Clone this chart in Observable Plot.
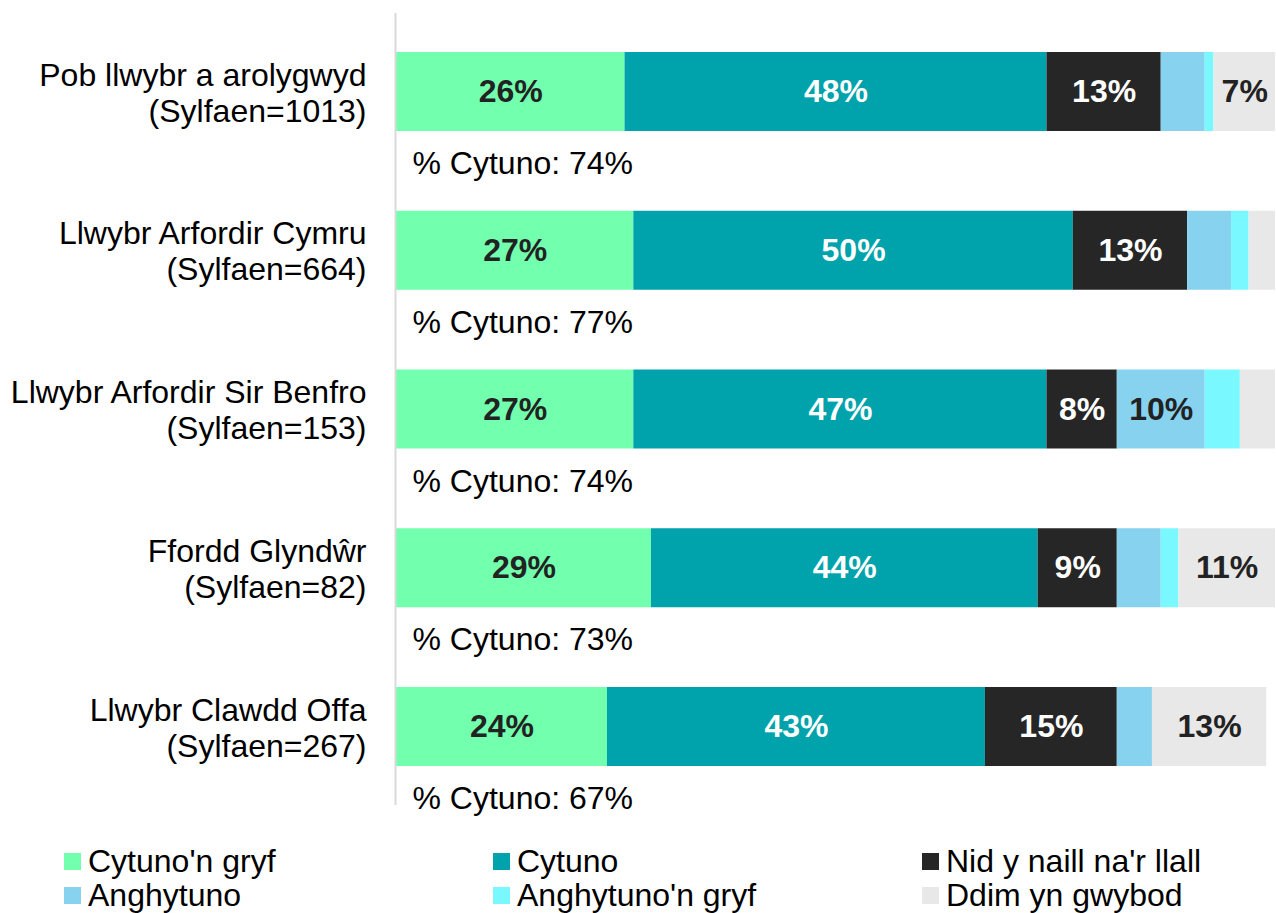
<!DOCTYPE html>
<html>
<head>
<meta charset="utf-8">
<script src="https://cdn.jsdelivr.net/npm/d3@7"></script>
<script src="https://cdn.jsdelivr.net/npm/@observablehq/plot@0.6"></script>
<style>
  html, body { margin: 0; padding: 0; background: #fff; }
  body { font-family: "Liberation Sans", Arial, sans-serif; }
  #chart svg { display: block; }
  .legend { position: relative; width: 1276px; height: 83px; font-family: "Liberation Sans", Arial, sans-serif; font-size: 32px; color: #000; }
  .legend .item { position: absolute; display: flex; align-items: center; height: 34px; line-height: 34px; white-space: nowrap; }
  .legend .sw { width: 17px; height: 17px; margin-right: 7px; flex: none; }
</style>
</head>
<body>
<div id="chart"></div>
<div class="legend" id="legend"></div>
<script>
const routes = [
  "Pob llwybr a arolygwyd\n(Sylfaen=1013)",
  "Llwybr Arfordir Cymru\n(Sylfaen=664)",
  "Llwybr Arfordir Sir Benfro\n(Sylfaen=153)",
  "Ffordd Glyndŵr\n(Sylfaen=82)",
  "Llwybr Clawdd Offa\n(Sylfaen=267)"
];
const responses = ["Cytuno'n gryf", "Cytuno", "Nid y naill na'r llall", "Anghytuno", "Anghytuno'n gryf", "Ddim yn gwybod"];
const colors = ["#72ffae", "#00a2ab", "#262626", "#86d2ef", "#79f8ff", "#e8e8e8"];

const cytunoGryf    = [26, 27, 27, 29, 24];
const cytuno        = [48, 50, 47, 44, 43];
const nidNaill      = [13, 13, 8, 9, 15];
const anghytuno     = [5, 5, 10, 5, 4];
const anghytunoGryf = [1, 2, 4, 2, 0];
const ddimGwybod    = [7, 3, 4, 11, 13];
const cytunoTotal   = [74, 77, 74, 73, 67];

const series = [cytunoGryf, cytuno, nidNaill, anghytuno, anghytunoGryf, ddimGwybod];
const data = [];
routes.forEach((r, i) => {
  responses.forEach((resp, j) => {
    data.push({route: r, response: resp, value: series[j][i]});
  });
});
const totals = routes.map((r, i) => ({route: r, total: cytunoTotal[i]}));

const whiteLabels = new Set(["Cytuno", "Nid y naill na'r llall"]);
const stackOpts = {x: "value", y: "route", z: "response", order: responses};

const chart = Plot.plot({
  width: 1276,
  height: 830,
  marginLeft: 396,
  marginRight: 1,
  marginTop: 13,
  marginBottom: 25,
  style: {fontFamily: "Liberation Sans, Arial, sans-serif", background: "#fff"},
  x: {domain: [0, 100], axis: null},
  y: {domain: routes, axis: null, paddingInner: 0.5024, paddingOuter: 0.2457, round: false},
  color: {domain: responses, range: colors},
  marks: [
    Plot.barX(data, Plot.stackX({...stackOpts, fill: "response"})),
    Plot.ruleX([0], {stroke: "#d9d9d9", strokeWidth: 2, dx: -1}),
    Plot.text(data, Plot.stackX({...stackOpts,
      text: d => (d.value >= 7 && whiteLabels.has(d.response)) ? d.value + "%" : "",
      fill: "white", fontSize: 32, fontWeight: "bold"})),
    Plot.text(data, Plot.stackX({...stackOpts,
      text: d => (d.value >= 7 && !whiteLabels.has(d.response)) ? d.value + "%" : "",
      fill: "#222222", fontSize: 32, fontWeight: "bold"})),
    Plot.text(routes, {x: () => 0, y: d => d, text: d => d, textAnchor: "end", dx: -30,
      fontSize: 32, lineHeight: 1.125, fill: "#000"}),
    Plot.text(totals, {x: () => 0, y: "route", text: d => "% Cytuno: " + d.total + "%",
      textAnchor: "start", dx: 16, dy: 72, fontSize: 32, fill: "#000"})
  ]
});
document.getElementById("chart").appendChild(chart);

// Legend
const legend = document.getElementById("legend");
const cols = [64, 493, 922];
const rowsTop = [14, 48];
responses.forEach((resp, j) => {
  const item = document.createElement("div");
  item.className = "item";
  item.style.left = cols[j % 3] + "px";
  item.style.top = rowsTop[Math.floor(j / 3)] + "px";
  const sw = document.createElement("span");
  sw.className = "sw";
  sw.style.background = colors[j];
  const label = document.createElement("span");
  label.textContent = resp;
  item.appendChild(sw);
  item.appendChild(label);
  legend.appendChild(item);
});
</script>
</body>
</html>
